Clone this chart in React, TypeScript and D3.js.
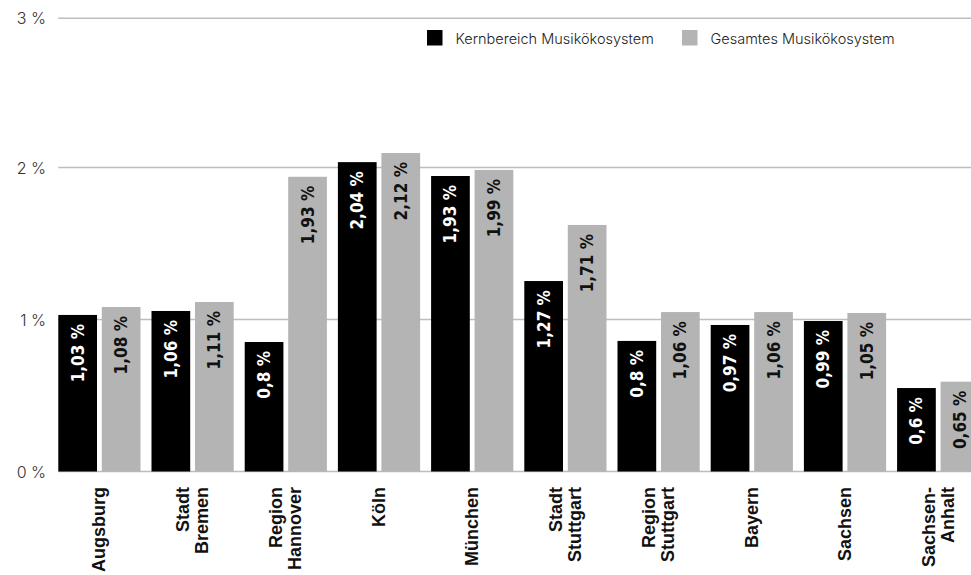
import * as d3 from 'd3';
import React from 'react';

// categories (line breaks as in the original labels)
const categories: string[][] = [
  ['Augsburg'],
  ['Stadt', 'Bremen'],
  ['Region', 'Hannover'],
  ['Köln'],
  ['München'],
  ['Stadt', 'Stuttgart'],
  ['Region', 'Stuttgart'],
  ['Bayern'],
  ['Sachsen'],
  ['Sachsen-', 'Anhalt'],
];

// bar heights (%)
const kernValues = [1.03, 1.056, 0.852, 2.036, 1.944, 1.253, 0.859, 0.964, 0.99, 0.549];
const gesamtValues = [1.082, 1.115, 1.939, 2.097, 1.984, 1.622, 1.049, 1.049, 1.043, 0.591];

// printed labels
const kernLabels = ['1,03 %', '1,06 %', '0,8 %', '2,04 %', '1,93 %', '1,27 %', '0,8 %', '0,97 %', '0,99 %', '0,6 %'];
const gesamtLabels = ['1,08 %', '1,11 %', '1,93 %', '2,12 %', '1,99 %', '1,71 %', '1,06 %', '1,06 %', '1,05 %', '0,65 %'];

const yTicks = [0, 1, 2, 3];
const yTickLabels = ['0 %', '1 %', '2 %', '3 %'];

const seriesNames = ['Kernbereich Musikökosystem', 'Gesamtes Musikökosystem'];
const seriesColors = ['#000000', '#b4b4b4'];

const width = 971;
const height = 575;

export default function App() {
  const x = d3.scaleBand<number>()
    .domain(d3.range(categories.length))
    .range([58.3, 979.3])
    .paddingInner(0.118)
    .paddingOuter(0);

  const xSub = d3.scaleBand<number>()
    .domain([0, 1])
    .range([0, x.bandwidth()])
    .paddingInner(0.11);

  const y = d3.scaleLinear()
    .domain([0, 1, 2, 3])
    .range([471.5, 319.5, 167.5, 18.3]);

  const series = [
    { values: kernValues, labels: kernLabels, textColor: '#ffffff' },
    { values: gesamtValues, labels: gesamtLabels, textColor: '#111111' },
  ];

  return (
    <svg width={width} height={height} style={{ position: 'absolute', left: 0, top: 0, background: '#fff' }}>
      {/* grid */}
      <g>
        {yTicks.map((t, i) => (
          <g key={t}>
            <line x1={58.3} x2={width} y1={y(t)} y2={y(t)} stroke="#bdbdbd" strokeWidth={1.5} />
            <text
              x={46}
              y={y(t)}
              textAnchor="end"
              dominantBaseline="central"
              fontFamily="Inter, sans-serif"
              fontWeight={300}
              fontSize={16}
              fill="#333"
            >
              {yTickLabels[i]}
            </text>
          </g>
        ))}
      </g>

      {/* bars */}
      {series.map((s, si) => (
        <g key={si}>
          {s.values.map((v, i) => {
            const bx = (x(i) ?? 0) + (xSub(si) ?? 0);
            const bw = xSub.bandwidth();
            const top = y(v);
            return (
              <g key={i}>
                <rect x={bx} y={top} width={bw} height={y(0) - top} fill={seriesColors[si]} />
                <text
                  transform={`translate(${bx + bw / 2},${top + 9}) rotate(-90)`}
                  textAnchor="end"
                  dominantBaseline="central"
                  fontFamily="'DejaVu Sans Condensed', 'DejaVu Sans', sans-serif"
                  fontWeight="bold"
                  fontSize={17}
                  fill={s.textColor}
                >
                  {s.labels[i]}
                </text>
              </g>
            );
          })}
        </g>
      ))}

      {/* category labels */}
      {categories.map((lines, i) => {
        const cx = (x(i) ?? 0) + x.bandwidth() / 2;
        const lh = 19;
        return (
          <g key={i} transform={`translate(${cx},487) rotate(-90)`}>
            {lines.map((ln, li) => (
              <text
                key={li}
                x={0}
                y={(li - (lines.length - 1) / 2) * lh}
                textAnchor="end"
                dominantBaseline="central"
                fontFamily="'Liberation Sans', Arial, sans-serif"
                fontWeight="bold"
                fontSize={18}
                fill="#111"
              >
                {ln}
              </text>
            ))}
          </g>
        );
      })}

      {/* legend */}
      <g>
        {[427, 682].map((lx, i) => (
          <g key={i} transform={`translate(${lx},30)`}>
            <rect x={0} y={0} width={15.5} height={15.5} fill={seriesColors[i]} />
            <text
              x={28.5}
              y={8}
              dominantBaseline="central"
              fontFamily="Inter, sans-serif"
              fontWeight={300}
              fontSize={14.5}
              fill="#222"
            >
              {seriesNames[i]}
            </text>
          </g>
        ))}
      </g>
    </svg>
  );
}
